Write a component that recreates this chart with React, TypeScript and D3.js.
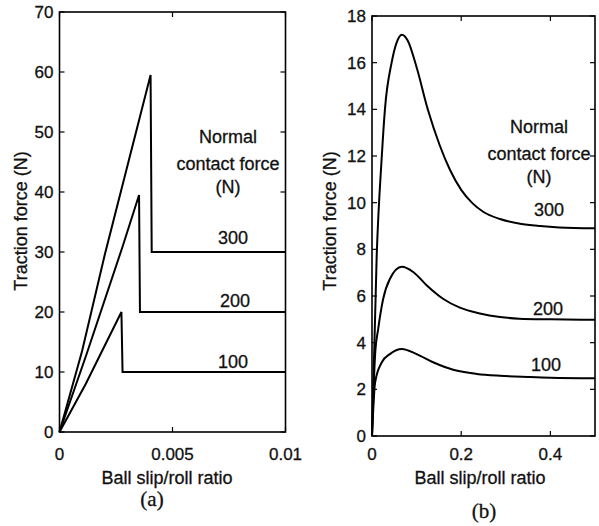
import React from 'react';
import * as d3 from 'd3';

// (a) slip/roll ratio vs traction, normal force 300 / 200 / 100 N
const slipA300 = [0, 0.001, 0.002, 0.00403, 0.00408, 0.01];
const forceA300 = [0, 13.5, 29.5, 59.5, 30, 30];
const slipA200 = [0, 0.0012, 0.0028, 0.00352, 0.00356, 0.01];
const forceA200 = [0, 13, 31, 39.5, 20, 20];
const slipA100 = [0, 0.00116, 0.00274, 0.00279, 0.01];
const forceA100 = [0, 8, 20, 10, 10];

// (b)
const slipB300 = [0, 0.0105, 0.022, 0.029, 0.044, 0.055, 0.067, 0.08, 0.1, 0.125, 0.152, 0.175, 0.2, 0.225, 0.25, 0.287, 0.332, 0.377, 0.42, 0.5];
const forceB300 = [0, 7.7, 12.0, 14.0, 16.0, 16.85, 17.2, 16.95, 15.8, 14.0, 12.45, 11.4, 10.55, 9.98, 9.6, 9.3, 9.1, 9.0, 8.94, 8.9];
const slipB200 = [0, 0.007, 0.014, 0.025, 0.04, 0.067, 0.093, 0.123, 0.16, 0.197, 0.242, 0.287, 0.33, 0.4, 0.5];
const forceB200 = [0, 3.5, 4.6, 5.87, 6.73, 7.25, 7.02, 6.45, 5.87, 5.5, 5.25, 5.1, 5.03, 5.0, 4.98];
const slipB100 = [0, 0.007, 0.022, 0.04, 0.067, 0.1, 0.137, 0.182, 0.235, 0.287, 0.35, 0.4, 0.5];
const forceB100 = [0, 2.3, 3.16, 3.51, 3.73, 3.51, 3.16, 2.84, 2.66, 2.58, 2.53, 2.5, 2.48];

const ticksAX = [0, 0.005, 0.01];
const labelsAX = ['0', '0.005', '0.01'];
const ticksAY = [0, 10, 20, 30, 40, 50, 60, 70];
const ticksBX = [0, 0.2, 0.4];
const labelsBX = ['0', '0.2', '0.4'];
const ticksBY = [0, 2, 4, 6, 8, 10, 12, 14, 16, 18];

const forcesN = ['300', '200', '100'];

const SANS = '"Liberation Sans", Arial, Helvetica, sans-serif';
const SERIF = '"Liberation Serif", "Times New Roman", serif';

// scanned text looks a bit heavier than a regular weight
const ink = { fill: '#111', stroke: '#111', strokeWidth: 0.3 };

type Series = { xs: number[]; ys: number[]; label: string; lx: number; ly: number };

type PanelProps = {
  left: number;
  right: number;
  top: number;
  bottom: number;
  xDomain: [number, number];
  yDomain: [number, number];
  xTicks: number[];
  xLabels: string[];
  yTicks: number[];
  series: Series[];
  smooth: boolean;
  legendX: number;
  legendY: number[];
  titleX: number;
  ytitleX: number;
  ytitleY: number;
  tag: string;
  tagX: number;
  tagY: number;
};

function Panel(p: PanelProps) {
  const x = d3.scaleLinear().domain(p.xDomain).range([p.left, p.right]);
  const y = d3.scaleLinear().domain(p.yDomain).range([p.bottom, p.top]);
  const tk = 5;

  return (
    <g>
      {/* frame */}
      <rect
        x={p.left}
        y={p.top}
        width={p.right - p.left}
        height={p.bottom - p.top}
        fill="none"
        stroke="#000"
        strokeWidth={1.6}
      />
      {/* ticks, inward on all four sides */}
      {p.yTicks.map((t) => (
        <g key={'y' + t}>
          <line x1={p.left} x2={p.left + tk} y1={y(t)} y2={y(t)} stroke="#000" strokeWidth={1.2} />
          <line x1={p.right} x2={p.right - tk} y1={y(t)} y2={y(t)} stroke="#000" strokeWidth={1.2} />
          <text x={p.left - 6} y={y(t)} dy="0.36em" textAnchor="end" fontFamily={SANS} fontSize={17} {...ink}>
            {t}
          </text>
        </g>
      ))}
      {p.xTicks.map((t, i) => (
        <g key={'x' + t}>
          <line x1={x(t)} x2={x(t)} y1={p.bottom} y2={p.bottom - tk} stroke="#000" strokeWidth={1.2} />
          <line x1={x(t)} x2={x(t)} y1={p.top} y2={p.top + tk} stroke="#000" strokeWidth={1.2} />
          <text x={x(t)} y={460} textAnchor="middle" fontFamily={SANS} fontSize={17} {...ink}>
            {p.xLabels[i]}
          </text>
        </g>
      ))}
      {/* curves */}
      {p.series.map((s) => {
        const pts: [number, number][] = s.xs.map((v, i) => [x(v), y(s.ys[i])]);
        const path = d3.line().curve(p.smooth ? d3.curveMonotoneX : d3.curveLinear)(pts);
        return (
          <g key={s.label}>
            <path d={path || ''} fill="none" stroke="#000" strokeWidth={2} />
            <text x={s.lx} y={s.ly} textAnchor="middle" fontFamily={SANS} fontSize={18} {...ink}>
              {s.label}
            </text>
          </g>
        );
      })}
      {/* legend heading */}
      {['Normal', 'contact force', '(N)'].map((t, i) => (
        <text key={t} x={p.legendX} y={p.legendY[i]} textAnchor="middle" fontFamily={SANS} fontSize={18} {...ink}>
          {t}
        </text>
      ))}
      {/* axis titles */}
      <text x={p.titleX} y={484} textAnchor="middle" fontFamily={SANS} fontSize={18} {...ink}>
        Ball slip/roll ratio
      </text>
      <text
        transform={`translate(${p.ytitleX},${p.ytitleY}) rotate(-90)`}
        textAnchor="middle"
        fontFamily={SANS}
        fontSize={18}
        {...ink}
      >
        Traction force (N)
      </text>
      <text x={p.tagX} y={p.tagY} textAnchor="middle" fontFamily={SERIF} fontSize={21} {...ink}>
        {p.tag}
      </text>
    </g>
  );
}

export default function App() {
  const seriesA: Series[] = [
    { xs: slipA300, ys: forceA300, label: forcesN[0], lx: 233, ly: 244 },
    { xs: slipA200, ys: forceA200, label: forcesN[1], lx: 235, ly: 307 },
    { xs: slipA100, ys: forceA100, label: forcesN[2], lx: 233, ly: 368 },
  ];
  const seriesB: Series[] = [
    { xs: slipB300, ys: forceB300, label: forcesN[0], lx: 549, ly: 216 },
    { xs: slipB200, ys: forceB200, label: forcesN[1], lx: 548, ly: 315 },
    { xs: slipB100, ys: forceB100, label: forcesN[2], lx: 546, ly: 371 },
  ];

  return (
    <svg width={599} height={526} style={{ position: 'absolute', left: 0, top: 0, background: '#fff' }}>
      <rect width={599} height={526} fill="#fff" />
      <Panel
        left={59.5}
        right={285.5}
        top={12}
        bottom={432}
        xDomain={[0, 0.01]}
        yDomain={[0, 70]}
        xTicks={ticksAX}
        xLabels={labelsAX}
        yTicks={ticksAY}
        series={seriesA}
        smooth={false}
        legendX={228}
        legendY={[143, 170, 193]}
        titleX={167}
        ytitleX={27}
        ytitleY={221}
        tag="(a)"
        tagX={152}
        tagY={506}
      />
      <Panel
        left={372}
        right={595}
        top={16}
        bottom={436}
        xDomain={[0, 0.5]}
        yDomain={[0, 18]}
        xTicks={ticksBX}
        xLabels={labelsBX}
        yTicks={ticksBY}
        series={seriesB}
        smooth={true}
        legendX={539}
        legendY={[133, 160, 183]}
        titleX={480}
        ytitleX={336}
        ytitleY={221}
        tag="(b)"
        tagX={484}
        tagY={518}
      />
    </svg>
  );
}
